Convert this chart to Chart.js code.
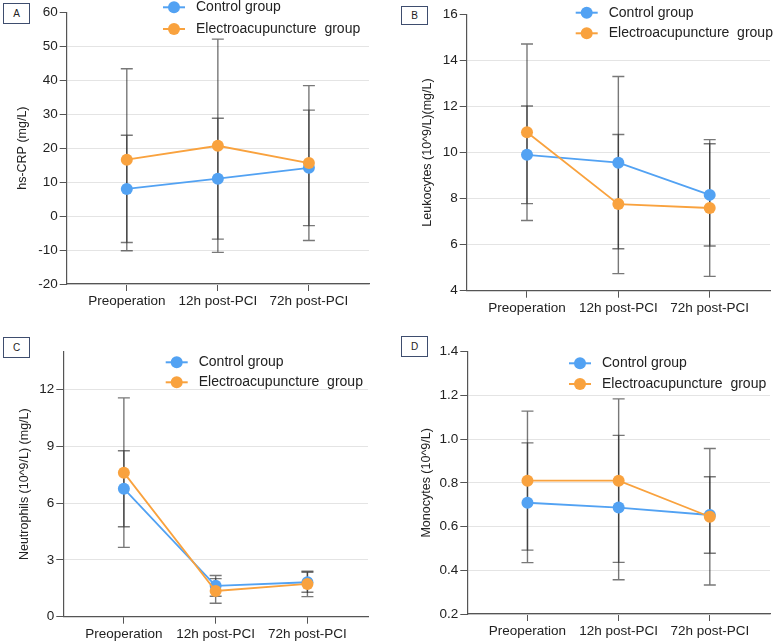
<!DOCTYPE html>
<html>
<head>
<meta charset="utf-8">
<script src="https://cdn.jsdelivr.net/npm/chart.js@4.4.1/dist/chart.umd.min.js"></script>
<style>
  body { margin: 0; background: #fff; font-family: 'Liberation Sans', Arial, sans-serif; }
  #wrap { position: relative; width: 780px; height: 644px; overflow: hidden; }
  .panel { position: absolute; width: 390px; height: 322px; }
  .tag { position: absolute; width: 25px; height: 19px; border: 1.5px solid #3e4d6e;
         font-size: 10px; line-height: 19px; text-align: center; color: #222; background: #fff; }
</style>
</head>
<body>
<div id="wrap">
  <div class="panel" style="left:0;top:0"><canvas id="chartA" width="390" height="322"></canvas></div>
  <div class="panel" style="left:390px;top:0"><canvas id="chartB" width="390" height="322"></canvas></div>
  <div class="panel" style="left:0;top:322px"><canvas id="chartC" width="390" height="322"></canvas></div>
  <div class="panel" style="left:390px;top:322px"><canvas id="chartD" width="390" height="322"></canvas></div>
  <div class="tag" style="left:3px;top:3px">A</div>
  <div class="tag" style="left:401px;top:6px;height:17px;line-height:17px">B</div>
  <div class="tag" style="left:3px;top:337px">C</div>
  <div class="tag" style="left:401px;top:336px">D</div>
</div>
<script>
// time points on the x axis
const timepoints = ['Preoperation', '12h post-PCI', '72h post-PCI'];
const seriesNames = ['Control group', 'Electroacupuncture  group'];

// A: hs-CRP, mean and SD
const crpControl = [8.0, 11.0, 14.2];
const crpControlSD = [15.8, 17.8, 17.0];
const crpEA = [16.6, 20.7, 15.6];
const crpEASD = [26.8, 31.4, 22.8];

// B: leukocytes
const leukControl = [9.9, 9.56, 8.16];
const leukControlSD = [2.12, 3.74, 2.22];
const leukEA = [10.88, 7.76, 7.59];
const leukEASD = [3.83, 3.02, 2.97];

// C: neutrophils
const neutControl = [6.76, 1.63, 1.82];
const neutControlSD = [2.01, 0.55, 0.53];
const neutEA = [7.61, 1.36, 1.73];
const neutEASD = [3.95, 0.65, 0.67];

// D: monocytes
const monoControl = [0.709, 0.687, 0.653];
const monoControlSD = [0.274, 0.33, 0.175];
const monoEA = [0.81, 0.81, 0.645];
const monoEASD = [0.318, 0.374, 0.312];

const BLUE = '#52a2f3';
const ORANGE = '#f9a23e';
const AXIS = '#555';
const FONT = "'Liberation Sans', Arial, sans-serif";

// mean +/- SD bars, drawn under the points
const errorBars = {
  id: 'errorBars',
  beforeDatasetsDraw(chart) {
    const { ctx, scales: { x, y } } = chart;
    ctx.save();
    ctx.strokeStyle = 'rgba(30,30,30,0.6)';
    ctx.lineWidth = 1.4;
    chart.data.datasets.forEach(ds => {
      ds.data.forEach((p, i) => {
        const px = x.getPixelForValue(p.x);
        const top = y.getPixelForValue(p.y + ds.sd[i]);
        const bot = y.getPixelForValue(p.y - ds.sd[i]);
        ctx.beginPath();
        ctx.moveTo(px, top); ctx.lineTo(px, bot);
        ctx.moveTo(px - 6, top); ctx.lineTo(px + 6, top);
        ctx.moveTo(px - 6, bot); ctx.lineTo(px + 6, bot);
        ctx.stroke();
      });
    });
    ctx.restore();
  }
};

// legend with line + dot marker, placed inside the plot
const lineLegend = {
  id: 'lineLegend',
  afterDraw(chart, args, opts) {
    const { ctx } = chart;
    ctx.save();
    ctx.font = '14px ' + FONT;
    ctx.textBaseline = 'middle';
    chart.data.datasets.forEach((ds, k) => {
      const cy = opts.y + k * opts.gap;
      ctx.strokeStyle = ds.borderColor;
      ctx.lineWidth = 2;
      ctx.beginPath();
      ctx.moveTo(opts.x - 11, cy); ctx.lineTo(opts.x + 11, cy);
      ctx.stroke();
      ctx.fillStyle = ds.backgroundColor;
      ctx.beginPath();
      ctx.arc(opts.x, cy, 6, 0, Math.PI * 2);
      ctx.fill();
      ctx.fillStyle = '#222';
      ctx.fillText(ds.label, opts.x + 22, cy);
    });
    ctx.restore();
  }
};

function toPoints(values) {
  return values.map((v, i) => ({ x: i, y: v }));
}

function makeChart(id, title, control, controlSD, ea, eaSD, yOpts, pad, yWidth, xHeight, legend) {
  new Chart(document.getElementById(id), {
    type: 'line',
    data: {
      datasets: [
        { label: seriesNames[0], data: toPoints(control), sd: controlSD, order: 1,
          borderColor: BLUE, backgroundColor: BLUE, borderWidth: 1.8,
          pointRadius: 6, pointHoverRadius: 6, pointBorderWidth: 0 },
        { label: seriesNames[1], data: toPoints(ea), sd: eaSD, order: 0,
          borderColor: ORANGE, backgroundColor: ORANGE, borderWidth: 1.8,
          pointRadius: 6, pointHoverRadius: 6, pointBorderWidth: 0 }
      ]
    },
    options: {
      responsive: false,
      animation: false,
      layout: { padding: pad },
      plugins: {
        legend: { display: false },
        tooltip: { enabled: false },
        lineLegend: legend
      },
      scales: {
        x: {
          type: 'linear',
          min: -0.66,
          max: 2.66,
          afterBuildTicks: s => { s.ticks = timepoints.map((_, i) => ({ value: i })); },
          afterFit: s => { s.height = xHeight; },
          ticks: {
            callback: v => timepoints[v],
            color: '#222',
            font: { size: 13.5, family: FONT },
            padding: 2,
            maxRotation: 0,
            autoSkip: false
          },
          grid: { drawOnChartArea: false, drawTicks: true, tickLength: 7, tickColor: AXIS, color: AXIS },
          border: { color: AXIS, width: 1.2 }
        },
        y: {
          min: yOpts.min,
          max: yOpts.max,
          afterFit: s => { s.width = yWidth; },
          ticks: {
            stepSize: yOpts.step,
            includeBounds: false,
            callback: v => yOpts.fmt(v),
            color: '#222',
            font: { size: 13.5, family: FONT },
            padding: 2
          },
          grid: {
            color: c => (c.tick && c.tick.value === yOpts.max) ? 'rgba(0,0,0,0)' : '#e4e4e4',
            tickColor: AXIS,
            tickLength: 7,
            lineWidth: 1
          },
          border: { color: AXIS, width: 1.2 },
          title: {
            display: true,
            text: title,
            color: '#222',
            font: { size: 12.5, family: FONT },
            padding: { top: 4, bottom: 4 }
          }
        }
      }
    },
    plugins: [errorBars, lineLegend]
  });
}

const intFmt = v => String(Math.round(v));

makeChart('chartA', 'hs-CRP (mg/L)', crpControl, crpControlSD, crpEA, crpEASD,
  { min: -20, max: 60, step: 10, fmt: intFmt },
  { left: 11.5, top: 12.3, right: 21, bottom: 0 }, 55.2, 38,
  { x: 174, y: 7.3, gap: 21.7 });

makeChart('chartB', 'Leukocytes (10^9/L)(mg/L)', leukControl, leukControlSD, leukEA, leukEASD,
  { min: 4, max: 16, step: 2, fmt: intFmt },
  { left: 26.5, top: 14.3, right: 10, bottom: 0 }, 50.2, 31.3,
  { x: 196.7, y: 12.7, gap: 20.6 });

makeChart('chartC', 'Neutrophils (10^9/L) (mg/L)', neutControl, neutControlSD, neutEA, neutEASD,
  { min: 0, max: 14, step: 3, fmt: intFmt },
  { left: 13.5, top: 29.7, right: 22, bottom: 0 }, 49.8, 27.3,
  { x: 176.7, y: 40.3, gap: 20 });

makeChart('chartD', 'Monocytes (10^9/L)', monoControl, monoControlSD, monoEA, monoEASD,
  { min: 0.2, max: 1.4, step: 0.2, fmt: v => v.toFixed(1) },
  { left: 25.5, top: 29.7, right: 10, bottom: 0 }, 51.8, 30,
  { x: 190, y: 41.3, gap: 20.7 });
</script>
</body>
</html>
